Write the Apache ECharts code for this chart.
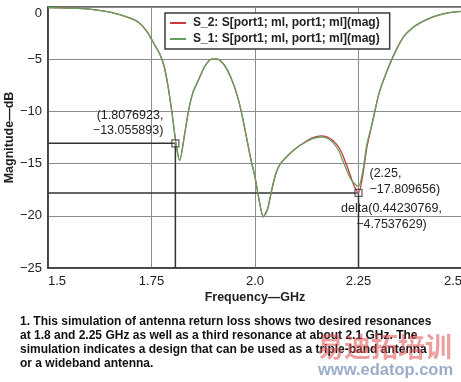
<!DOCTYPE html>
<html><head><meta charset="utf-8">
<script src="https://cdn.jsdelivr.net/npm/echarts@6/dist/echarts.min.js"></script>
<style>html,body{margin:0;padding:0;background:#fff}#c{width:461px;height:382px}</style>
</head><body><div id="c"></div>
<script>
// ---- data ----
const freq = [1.5,1.55,1.6,1.65,1.7,1.72,1.74,1.76,1.77,1.78,1.79,1.80,1.81,1.818,1.83,1.84,1.85,1.86,1.87,1.88,1.895,1.91,1.92,1.93,1.94,1.95,1.96,1.97,1.98,1.99,2.0,2.01,2.02,2.03,2.04,2.05,2.06,2.08,2.10,2.12,2.14,2.16,2.18,2.20,2.21,2.22,2.23,2.24,2.25,2.26,2.27,2.28,2.29,2.30,2.32,2.34,2.36,2.38,2.40,2.43,2.46,2.5];
const magS1 = [-0.05,-0.1,-0.2,-0.5,-1.1,-1.5,-2.4,-3.8,-4.5,-5.6,-7.6,-10.3,-13.3,-14.7,-12.2,-9.8,-8.2,-7.3,-6.4,-5.6,-5.0,-5.0,-5.3,-5.8,-6.6,-7.6,-8.9,-10.6,-12.6,-14.6,-16.3,-18.5,-20.1,-19.4,-17.6,-16.0,-15.1,-14.2,-13.5,-13.0,-12.6,-12.45,-12.7,-13.6,-14.5,-15.5,-16.4,-16.9,-17.2,-15.8,-13.2,-11.6,-9.9,-8.2,-6.0,-4.2,-2.8,-2.0,-1.5,-0.95,-0.6,-0.4];
const magS2 = [-0.05,-0.1,-0.2,-0.5,-1.1,-1.5,-2.4,-3.8,-4.5,-5.6,-7.6,-10.3,-13.3,-14.7,-12.2,-9.8,-8.2,-7.3,-6.4,-5.6,-5.0,-5.0,-5.3,-5.8,-6.6,-7.6,-8.9,-10.6,-12.6,-14.6,-16.3,-18.5,-20.1,-19.4,-17.6,-16.0,-15.1,-14.2,-13.5,-12.95,-12.5,-12.35,-12.55,-13.3,-14.0,-15.0,-16.1,-17.2,-17.81,-16.2,-13.5,-11.7,-9.9,-8.2,-6.0,-4.2,-2.8,-2.0,-1.5,-0.95,-0.6,-0.4];
const seriesNames = ['S_2: S[port1; ml, port1; ml](mag)', 'S_1: S[port1; ml, port1; ml](mag)'];
const xTicks = [1.5, 1.75, 2.0, 2.25, 2.5];
const xTickLabels = ['1.5', '1.75', '2.0', '2.25', '2.5'];
const yTicks = [0, -5, -10, -15, -20, -25];
const yTickLabels = ['0', '\u22125', '\u221210', '\u221215', '\u221220', '\u221225'];
const markerX = [1.8076923, 2.25];
const markerY = [-13.055893, -17.809656];
const markerText = ['(1.8076923,\n\u221213.055893)', '(2.25,\n\u221217.809656)'];
const deltaText = 'delta(0.44230769,\n\u22124.7537629)';
const caption = '1. This simulation of antenna return loss shows two desired resonances\nat 1.8 and 2.25 GHz as well as a third resonance at about 2.1 GHz. The\nsimulation indicates a design that can be used as a triple-band antenna\nor a wideband antenna.';

// ---- chart ----
const FONT = '"Liberation Sans", Arial, Helvetica, sans-serif';
const chart = echarts.init(document.getElementById('c'), null, {renderer: 'canvas'});
const xMin = 1.5, xMax = 2.5, yMin = -25, yMax = 0;

function markerLine(i) {
  return [[xMin, markerY[i]], [markerX[i], markerY[i]], [markerX[i], yMin]];
}

chart.setOption({
  animation: false,
  backgroundColor: '#fff',
  grid: {left: 48, top: 7, width: 414, height: 261, containLabel: false, outerBoundsMode: 'none',
    show: true, borderColor: '#3a3a3a', borderWidth: 1.5, backgroundColor: 'transparent'},
  legend: {
    data: seriesNames, orient: 'vertical', left: 165, top: 13,
    backgroundColor: '#fff', borderColor: '#3a3a3a', borderWidth: 1.5,
    padding: [4, 10, 4, 5], itemGap: 4, itemWidth: 16, itemHeight: 2, icon: 'rect',
    textStyle: {fontFamily: FONT, fontSize: 12, fontWeight: 'bold', color: '#222', padding: [0, 0, 0, 2]}
  },
  xAxis: {
    type: 'value', min: xMin, max: xMax, interval: 0.25,
    name: 'Frequency\u2014GHz', nameLocation: 'middle', nameGap: 23, nameMoveOverlap: false,
    nameTextStyle: {fontFamily: FONT, fontSize: 12.5, fontWeight: 'bold', color: '#222', verticalAlign: 'top'},
    axisLine: {show: true, onZero: false, lineStyle: {color: '#3a3a3a', width: 1.5}},
    axisTick: {show: false},
    splitLine: {show: true, lineStyle: {color: '#8c8c8c', width: 1}},
    axisLabel: {fontFamily: FONT, fontSize: 13, color: '#222', margin: 7,
      alignMinLabel: 'left', alignMaxLabel: 'right',
      formatter: v => { const k = xTicks.findIndex(t => Math.abs(t - v) < 1e-6); return k >= 0 ? xTickLabels[k] : ''; }}
  },
  yAxis: {
    type: 'value', min: yMin, max: yMax, interval: 5,
    name: 'Magnitude\u2014dB', nameLocation: 'middle', nameGap: 32, nameMoveOverlap: false,
    nameTextStyle: {fontFamily: FONT, fontSize: 12.5, fontWeight: 'bold', color: '#222'},
    axisLine: {show: true, onZero: false, lineStyle: {color: '#3a3a3a', width: 1.5}},
    axisTick: {show: false},
    splitLine: {show: true, lineStyle: {color: '#8c8c8c', width: 1}},
    axisLabel: {fontFamily: FONT, fontSize: 13, color: '#222', margin: 6,
      verticalAlignMaxLabel: 'top',
      formatter: v => { const k = yTicks.findIndex(t => Math.abs(t - v) < 1e-6); return k >= 0 ? yTickLabels[k] : ''; }}
  },
  series: [
    {type: 'line', name: 'm1', data: markerLine(0), symbol: 'none', silent: true, z: 1,
      lineStyle: {color: '#333', width: 1.5}},
    {type: 'line', name: 'm2', data: markerLine(1), symbol: 'none', silent: true, z: 1,
      lineStyle: {color: '#333', width: 1.5}},
    {type: 'line', name: seriesNames[0], data: freq.map((f, i) => [f, magS2[i]]), symbol: 'none', smooth: 0.25,
      color: '#c8383c', lineStyle: {color: '#c8383c', width: 1.3}, z: 2},
    {type: 'line', name: seriesNames[1], data: freq.map((f, i) => [f, magS1[i]]), symbol: 'none', smooth: 0.25,
      color: '#5fa35f', lineStyle: {color: '#5fa35f', width: 1.3}, z: 3},
    {type: 'scatter', name: 'markers', data: markerX.map((x, i) => [x, markerY[i]]), symbol: 'rect', symbolSize: 7, z: 4,
      itemStyle: {color: 'rgba(255,255,255,0.2)', borderColor: '#333', borderWidth: 1.2}}
  ]
});

// annotations positioned through the axes' scales
const p1 = chart.convertToPixel({gridIndex: 0}, [markerX[0], markerY[0]]);
const p2 = chart.convertToPixel({gridIndex: 0}, [markerX[1], markerY[1]]);
const annStyle = {fontFamily: FONT, fontSize: 12.5, fill: '#222', lineHeight: 15.5};
chart.setOption({
  graphic: [
    {type: 'text', x: p1[0] - 12, y: p1[1] - 36, z: 10, style: Object.assign({text: markerText[0], align: 'right'}, annStyle)},
    {type: 'text', x: p2[0] + 11, y: p2[1] - 27, z: 10, style: Object.assign({text: markerText[1], align: 'left'}, annStyle)},
    {type: 'text', x: p2[0] + 33, y: p2[1] + 8, z: 10, style: Object.assign({text: deltaText, align: 'center'}, annStyle)},
    {type: 'text', left: 20, top: 315, z: 10, style: {text: caption, fontFamily: FONT, fontSize: 12, fontWeight: 'bold', fill: '#111', lineHeight: 13.8}},
    {type: 'text', left: 317, top: 333, z: 11, style: {text: '易迪拓培训', fontFamily: '"Noto Sans CJK SC", sans-serif', fontSize: 27, fontWeight: 'bold', fill: 'rgba(222,80,80,0.55)'}},
    {type: 'text', left: 318, top: 362, z: 11, style: {text: 'www.edatop.com', fontFamily: FONT, fontSize: 16.5, fontWeight: 'bold', fill: 'rgba(120,145,185,0.75)'}}
  ]
});
</script></body></html>
